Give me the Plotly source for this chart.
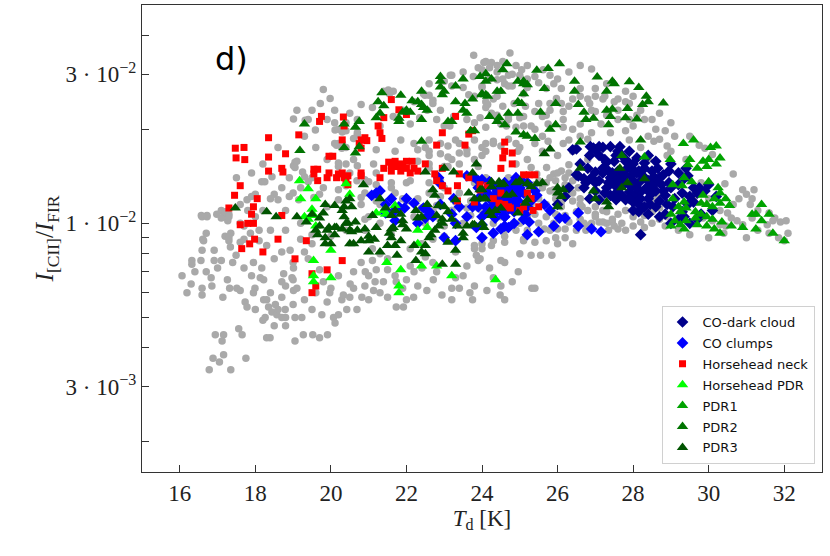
import numpy as np
import plotly.graph_objects as go

# ======================
# DATA  (T_d [K], I_CII/I_FIR in units of 1e-2)
# ======================
all_pixels = [
    (16.06, 0.68), (16.19, 0.60), (16.32, 0.76), (16.32, 0.74), (16.30, 0.64), (16.56, 0.76),
    (16.59, 0.82), (16.61, 0.89), (16.59, 0.62), (16.59, 0.59), (16.83, 0.67), (16.85, 0.63),
    (16.91, 0.76), (16.91, 0.82), (16.57, 1.06), (16.72, 1.06), (16.94, 0.44), (17.16, 0.44),
    (17.12, 0.42), (16.88, 0.37), (17.16, 0.38), (17.05, 0.36), (16.78, 0.34), (17.35, 0.34),
    (17.75, 0.37), (17.56, 0.46), (17.65, 0.44), (17.10, 0.76), (17.14, 0.58), (17.26, 0.66),
    (17.32, 0.62), (17.35, 0.93), (17.34, 0.84), (17.51, 0.62), (17.49, 0.79), (17.60, 0.61),
    (17.73, 0.56), (17.78, 0.54), (17.95, 0.75), (17.99, 0.62), (17.95, 0.60), (18.17, 0.72),
    (18.13, 0.67), (18.22, 0.66), (18.22, 0.57), (18.30, 0.57), (18.35, 0.54), (18.26, 0.50),
    (18.44, 0.52), (18.53, 0.55), (18.57, 0.51), (18.60, 0.53), (18.70, 0.50), (18.79, 0.53),
    (18.80, 0.50), (18.75, 0.69), (18.70, 0.65), (18.80, 0.63), (18.97, 0.67), (19.00, 0.66),
    (19.01, 0.72), (19.01, 0.61), (19.10, 0.62), (18.39, 0.43), (18.30, 0.43), (19.05, 0.42),
    (19.05, 0.50), (19.27, 0.44), (19.52, 0.44), (19.70, 0.43), (19.91, 0.44), (19.23, 0.50),
    (19.50, 0.53), (19.76, 0.51), (20.07, 0.50), (20.20, 0.51), (20.42, 0.53), (20.11, 0.48),
    (20.29, 0.57), (20.00, 0.62), (19.97, 0.60), (20.33, 0.59), (20.51, 0.64), (20.60, 0.62),
    (20.69, 0.53), (20.82, 0.58), (20.91, 0.70), (21.00, 0.57), (21.13, 0.61), (21.30, 0.60),
    (21.17, 0.65), (21.39, 0.65), (21.73, 0.54), (21.92, 0.54), (22.00, 0.57), (21.73, 0.65),
    (21.90, 0.62), (22.19, 0.58), (22.00, 0.66), (22.20, 0.70), (22.41, 0.72), (22.54, 0.61),
    (22.71, 0.66), (22.94, 0.59), (23.20, 0.57), (23.20, 0.62), (23.40, 0.62), (23.68, 0.60),
    (23.75, 0.57), (23.80, 0.63), (24.13, 0.61), (24.48, 0.59), (24.60, 0.57), (24.50, 0.63),
    (24.96, 0.70), (25.32, 0.62), (25.40, 0.62), (24.20, 0.72), (23.95, 0.77), (23.60, 0.73),
    (23.30, 0.67), (22.70, 0.75), (22.50, 0.78), (22.10, 0.73), (21.70, 0.68), (21.50, 0.71),
    (21.20, 0.71), (21.00, 0.68), (20.60, 0.70), (20.80, 0.75), (21.10, 0.76), (21.30, 0.80),
    (21.50, 0.77), (18.92, 0.82), (19.00, 0.75), (18.70, 0.81), (18.50, 0.77), (18.30, 0.85),
    (18.10, 0.88), (17.87, 0.93), (17.70, 0.98), (17.60, 1.00), (17.70, 0.89), (17.60, 0.87),
    (17.30, 0.88), (17.20, 0.91), (17.10, 1.10), (17.16, 1.05), (17.27, 1.02), (17.30, 1.07),
    (16.70, 0.93), (19.20, 0.89), (19.30, 0.81), (19.40, 0.77), (19.50, 0.86), (19.70, 0.71),
    (19.90, 0.56), (20.20, 0.68), (20.00, 0.91), (20.40, 0.95), (21.10, 0.83), (20.90, 0.95),
    (21.60, 0.92), (22.10, 0.83), (22.40, 0.86), (22.70, 0.89), (23.00, 0.91), (23.30, 0.81),
    (23.80, 0.83), (24.00, 0.86), (24.30, 0.88), (24.60, 0.91), (25.10, 0.89),
    (16.59, 1.05), (16.72, 1.05), (16.98, 1.07), (17.10, 1.04), (17.20, 1.09), (17.30, 1.05),
    (16.63, 0.88), (17.30, 0.90), (17.78, 1.19), (17.90, 1.22), (18.00, 1.24), (18.17, 1.36),
    (18.25, 1.36), (18.44, 1.41), (18.50, 1.24), (18.60, 1.19), (18.80, 1.10), (18.90, 1.22),
    (19.00, 1.25), (19.01, 1.53), (19.05, 1.57), (19.10, 1.58), (19.30, 1.41), (19.40, 1.36),
    (19.15, 1.19), (19.70, 1.24), (19.55, 1.21), (19.90, 1.13), (20.20, 1.28), (20.20, 1.19),
    (20.40, 1.32), (20.69, 1.37), (20.90, 1.38), (21.00, 1.36), (21.20, 1.33), (21.13, 1.55),
    (20.70, 1.53), (20.40, 1.55), (20.20, 1.52), (20.20, 1.56), (20.60, 1.60), (20.29, 1.74),
    (20.20, 1.80), (20.11, 1.99), (20.15, 1.78), (20.20, 2.00), (20.30, 1.96), (20.40, 1.98),
    (20.70, 1.92), (19.59, 1.99), (19.01, 2.16), (19.32, 2.14), (19.72, 2.42), (19.98, 2.51),
    (20.10, 2.30), (19.05, 1.51), (19.25, 1.46), (21.52, 2.67), (21.65, 2.65), (21.90, 2.30),
    (22.49, 2.57), (22.60, 2.57), (22.70, 2.42), (22.55, 2.30), (22.90, 2.30), (23.00, 2.05),
    (23.20, 2.98), (23.78, 3.45), (24.10, 3.30), (23.90, 3.15), (24.00, 2.75), (24.20, 2.90),
    (23.80, 2.55), (24.10, 2.35), (24.10, 2.45), (23.40, 1.80), (23.60, 1.72), (22.50, 1.75),
    (22.60, 1.65), (22.30, 1.72), (21.70, 1.70), (21.20, 1.72), (22.30, 1.58), (22.60, 1.50),
    (23.00, 1.52), (23.20, 1.60), (23.40, 1.68), (24.00, 1.65), (23.90, 1.52), (24.10, 1.80),
    (23.60, 1.42), (22.90, 1.38), (22.60, 1.35), (22.10, 1.37), (21.60, 1.30), (21.20, 1.18),
    (20.80, 1.21), (20.90, 1.03), (21.30, 1.00), (21.60, 1.10), (22.00, 1.18), (22.40, 1.12),
    (22.80, 1.14), (23.20, 1.10), (23.70, 1.18), (23.90, 1.12), (24.00, 0.98),
    (24.74, 3.51), (24.55, 3.30), (24.25, 3.27), (24.05, 3.27), (24.40, 3.20), (24.90, 3.20),
    (25.20, 3.20), (25.62, 3.10), (25.80, 2.98), (26.00, 2.90), (25.00, 2.98), (24.70, 2.98),
    (24.40, 2.88), (24.60, 2.80), (24.80, 2.75), (25.20, 2.72), (25.50, 2.82), (25.70, 2.70),
    (25.97, 2.51), (26.60, 3.20), (26.90, 3.12), (26.10, 2.42), (25.80, 2.42), (25.50, 2.42),
    (25.15, 2.37), (24.85, 2.42), (24.55, 2.37), (24.30, 2.50), (24.15, 2.40), (24.40, 2.22),
    (24.70, 2.15), (25.10, 2.20), (25.40, 2.28), (25.60, 2.20), (25.70, 2.22), (25.80, 2.30),
    (26.15, 2.28), (26.15, 2.15), (26.30, 2.37), (26.40, 2.50), (26.60, 2.55), (26.80, 2.50),
    (26.85, 2.42), (27.00, 2.55), (27.25, 2.55), (27.00, 2.28), (27.30, 2.80), (27.50, 2.45),
    (27.60, 2.50), (27.80, 2.45), (27.90, 2.42), (27.30, 2.22), (27.60, 2.15), (27.90, 2.15),
    (28.10, 2.22), (28.30, 2.15), (28.50, 2.15), (27.15, 2.08), (26.60, 2.08), (26.40, 2.00),
    (26.15, 2.03), (25.75, 2.08), (25.40, 2.00), (24.90, 2.03), (24.50, 2.08), (24.30, 1.83),
    (24.70, 1.86), (25.00, 1.75), (25.40, 1.80), (25.75, 1.83), (26.15, 1.80), (26.30, 1.85),
    (26.60, 1.90), (26.80, 1.86), (27.80, 1.98), (28.40, 1.90), (28.55, 1.83), (28.70, 1.86),
    (28.85, 1.98), (28.90, 1.77), (29.10, 1.90), (29.50, 1.90), (29.75, 1.78), (29.90, 1.74),
    (30.10, 1.66), (29.00, 1.70), (28.20, 1.75),
    (30.43, 1.34), (30.65, 1.44), (30.90, 1.28), (31.20, 1.28), (31.00, 1.24), (31.15, 1.20),
    (31.10, 1.15), (30.80, 1.20), (30.65, 1.15), (30.50, 1.08), (30.60, 1.04), (30.75, 1.02),
    (30.90, 0.99), (31.15, 1.04), (31.30, 1.10), (31.60, 1.08), (31.75, 1.04), (31.90, 1.01),
    (32.05, 1.02), (31.55, 0.99), (31.70, 1.02), (30.45, 0.98), (30.30, 0.99), (30.10, 1.02),
    (29.85, 1.04), (29.50, 0.92), (30.00, 0.90), (30.40, 0.93), (31.00, 0.90), (31.30, 0.95),
    (31.60, 0.93), (32.00, 0.88), (31.85, 0.90), (32.10, 0.93),
    (25.71, 1.51), (25.90, 1.44), (26.10, 1.47), (26.30, 1.54), (25.95, 1.37), (25.70, 1.35),
    (25.80, 1.27), (26.20, 1.33), (26.40, 1.37), (26.55, 1.30), (26.30, 1.25), (25.95, 1.20),
    (25.70, 1.15), (26.10, 1.13), (26.40, 1.18), (26.60, 1.20), (26.65, 1.13), (26.50, 1.09),
    (26.20, 1.06), (25.95, 1.07), (25.70, 1.05), (25.90, 1.00), (26.30, 1.01), (26.60, 1.03),
    (26.90, 1.00), (27.10, 1.01), (27.30, 1.00), (27.45, 1.01), (27.70, 1.00), (28.00, 0.98),
    (28.20, 1.01), (28.50, 1.00), (28.70, 1.03), (28.85, 0.98), (27.00, 1.07), (27.30, 1.09),
    (27.60, 1.07), (27.80, 1.10), (28.05, 1.09), (28.30, 1.06), (28.50, 1.09), (28.70, 1.12),
    (27.10, 1.20), (27.00, 1.13), (28.00, 1.20), (28.55, 1.20), (28.70, 1.22), (25.45, 1.44),
    (25.50, 1.37), (25.30, 1.51), (25.40, 1.33), (25.20, 1.25), (25.05, 1.27), (24.90, 1.10),
    (25.40, 1.07), (25.65, 0.96), (25.80, 0.95), (26.00, 0.96), (26.20, 0.96), (26.50, 0.95),
    (26.75, 0.95), (27.35, 0.95), (27.60, 0.96), (27.80, 0.95), (27.20, 1.01), (27.45, 1.03),
    (24.60, 0.95), (24.90, 0.95), (25.10, 0.88), (25.40, 0.87), (25.95, 0.90), (26.00, 0.86),
    (26.40, 0.86), (25.55, 0.79), (25.30, 0.79), (25.85, 0.79), (24.60, 0.87), (24.25, 0.85),
    (24.00, 0.83), (23.90, 0.76), (23.85, 0.79), (24.50, 0.76), (24.60, 0.75), (23.80, 0.85),
    (22.50, 1.00), (22.80, 1.05), (23.00, 0.98), (23.20, 1.10), (23.50, 1.00), (23.70, 1.06),
    (24.00, 1.10), (24.30, 1.00), (24.50, 1.05), (24.80, 1.10), (25.00, 1.00), (25.20, 1.05),
    (22.30, 1.20), (22.60, 1.25), (23.00, 1.30), (23.40, 1.25), (23.80, 1.35), (24.10, 1.40),
    (24.40, 1.30), (24.70, 1.40), (25.00, 1.35), (22.00, 1.35), (21.70, 1.25), (21.50, 1.10),
    (21.30, 1.15), (21.00, 1.05), (20.80, 1.15),
    (23.16, 2.98), (23.20, 2.75), (23.77, 2.95), (24.00, 3.10), (24.20, 3.15), (24.40, 3.05),
    (24.55, 2.90), (24.80, 3.00), (25.05, 3.10), (25.20, 2.90), (24.70, 2.75), (25.10, 2.60),
    (24.40, 2.55), (24.00, 2.72), (23.65, 2.58), (23.50, 2.72), (21.40, 2.65), (21.55, 2.60),
    (22.45, 2.60), (22.70, 2.48), (23.25, 2.20), (23.60, 2.15), (23.95, 2.18), (24.25, 2.25),
    (24.70, 2.20), (25.00, 2.18), (25.10, 2.05), (24.65, 2.05), (24.10, 2.03), (23.80, 2.10),
    (23.15, 2.05), (22.80, 2.15), (22.35, 2.18), (22.10, 2.08), (21.80, 2.15), (21.65, 2.20),
    (21.30, 2.05), (20.70, 2.15), (20.40, 2.10), (19.90, 2.15), (20.10, 2.10), (19.80, 2.68),
    (19.40, 2.15), (19.10, 2.30), (20.10, 1.80), (20.30, 1.80), (20.40, 1.75), (20.60, 1.87),
    (20.70, 1.95), (21.85, 1.85), (22.20, 1.80), (22.60, 1.85), (22.90, 1.80), (23.10, 1.77),
    (23.30, 1.85), (23.80, 1.85), (24.00, 1.75), (24.30, 1.80), (24.50, 1.77), (24.90, 1.80),
    (22.60, 1.70), (22.90, 1.67), (23.10, 1.63), (23.60, 1.67), (23.80, 1.60), (24.10, 1.70),
    (24.95, 1.70), (22.60, 1.55), (23.10, 1.52), (23.40, 1.55),
    (25.50, 1.20), (25.60, 1.30), (25.80, 1.40), (26.00, 1.45), (26.20, 1.40), (26.40, 1.25),
    (26.60, 1.15), (26.80, 1.10), (27.00, 1.05), (26.80, 0.98), (27.50, 0.98), (28.30, 0.97),
    (28.90, 1.05), (29.20, 0.95), (25.30, 1.15), (25.50, 1.00), (25.20, 0.95), (26.10, 1.17),
    (25.90, 1.28), (26.30, 1.45), (24.40, 1.17), (23.60, 1.12), (23.30, 1.17), (22.90, 1.22),
    (22.70, 1.10), (22.20, 1.05), (21.90, 1.20), (21.60, 1.35), (21.20, 1.45), (20.90, 1.25),
    (20.50, 1.45), (19.80, 1.30), (19.50, 1.40), (19.20, 1.30), (18.90, 1.40), (18.70, 1.30),
    (18.40, 1.20), (18.20, 1.10), (18.00, 1.05), (17.80, 1.10), (17.60, 1.15), (18.10, 0.95),
    (18.40, 0.95), (18.80, 0.95), (19.20, 1.00), (19.50, 0.92), (18.00, 0.53), (18.20, 0.49),
    (18.50, 0.47), (18.80, 0.47), (19.00, 0.55), (19.30, 0.57), (18.40, 0.60), (18.70, 0.58),
    (17.90, 0.68), (17.70, 0.72), (17.40, 0.75), (16.40, 0.70), (16.70, 0.70), (17.00, 0.72),
    (19.60, 0.60), (19.80, 0.65), (20.50, 0.58), (20.90, 0.63), (21.50, 0.58), (22.30, 0.63),
    (22.80, 0.70), (23.50, 0.68), (24.30, 0.67), (24.80, 0.65), (25.00, 0.80), (25.70, 0.88),
    (26.20, 0.90), (26.70, 1.00), (27.20, 1.10), (28.00, 1.05), (28.90, 1.15), (29.30, 1.25),
    (29.60, 1.20), (30.00, 1.20), (30.30, 1.10), (29.80, 1.35), (29.40, 1.60), (28.90, 1.65),
    (28.40, 1.60), (27.90, 1.85), (27.40, 1.95), (26.90, 1.95), (26.40, 1.70), (26.00, 1.65),
    (25.60, 1.70), (25.20, 1.60), (24.90, 1.55), (26.80, 1.60), (25.60, 1.90), (25.30, 2.05),
    (26.90, 2.30), (27.60, 2.30), (28.20, 2.30), (28.70, 2.25), (29.00, 2.10), (28.60, 2.00),
    (28.00, 2.05), (27.20, 2.50), (26.60, 2.70), (26.10, 2.70), (25.90, 2.80), (25.40, 2.95),
    (26.30, 3.05), (27.00, 2.70), (27.80, 2.65), (28.00, 2.55), (23.50, 3.05), (23.00, 2.85),
    (22.60, 2.80), (22.20, 2.45), (21.10, 2.35), (20.80, 2.40), (20.50, 2.25), (19.50, 2.30),
    (19.30, 1.90), (19.60, 1.75), (19.90, 1.60), (18.60, 1.75), (18.20, 1.55), (17.90, 1.45),
    (17.50, 1.40),
]

co_dark_cloud = [
    (26.40, 1.72), (26.95, 1.74), (26.85, 1.65), (27.10, 1.65), (27.20, 1.75), (27.30, 1.57),
    (27.50, 1.58), (27.70, 1.65), (27.80, 1.58), (27.20, 1.50), (27.35, 1.47), (27.60, 1.47),
    (27.85, 1.50), (28.00, 1.48), (28.15, 1.47), (28.30, 1.50), (28.50, 1.47), (28.65, 1.50),
    (28.80, 1.43), (28.95, 1.47), (26.55, 1.42), (26.70, 1.39), (26.90, 1.40), (27.10, 1.37),
    (27.35, 1.35), (27.50, 1.33), (27.65, 1.30), (27.80, 1.35), (28.00, 1.37), (28.15, 1.35),
    (28.40, 1.37), (28.60, 1.35), (28.75, 1.33), (26.70, 1.30), (27.00, 1.27), (27.25, 1.25),
    (27.40, 1.23), (27.55, 1.25), (27.70, 1.23), (27.90, 1.26), (28.05, 1.24), (28.20, 1.26),
    (28.45, 1.25), (28.60, 1.27), (28.85, 1.23), (29.00, 1.30), (29.20, 1.33), (29.35, 1.39),
    (29.45, 1.42), (29.60, 1.30), (29.75, 1.30), (30.00, 1.33), (29.70, 1.25), (29.90, 1.27),
    (27.55, 1.19), (27.80, 1.19), (28.00, 1.17), (28.15, 1.15), (28.30, 1.13), (28.45, 1.15),
    (28.60, 1.13), (28.15, 1.09), (28.40, 1.07), (28.85, 1.07), (29.05, 1.13), (29.30, 1.09),
    (29.45, 1.15), (29.60, 1.17), (29.20, 1.03), (29.35, 1.05), (29.80, 1.07), (29.70, 1.03),
    (26.85, 1.20), (26.50, 1.43), (27.10, 1.19), (27.50, 1.41), (27.00, 1.46), (26.75, 1.35),
    (28.80, 1.27), (28.95, 1.35), (26.87, 1.76), (27.00, 1.72), (27.10, 1.76), (27.40, 1.76),
    (27.65, 1.76), (27.25, 1.60), (27.55, 1.65), (26.50, 1.73), (27.85, 1.58), (26.20, 1.22),
    (26.30, 1.30), (26.00, 1.15), (28.20, 0.92), (27.95, 1.42), (28.25, 1.42), (28.55, 1.41),
    (27.45, 1.45), (27.75, 1.43), (28.10, 1.30), (28.35, 1.30), (27.30, 1.30), (27.95, 1.31),
    (27.40, 1.40), (27.60, 1.38), (27.80, 1.42), (28.10, 1.45), (28.30, 1.40), (28.50, 1.32),
    (28.70, 1.40), (27.50, 1.22), (27.90, 1.20), (28.20, 1.20), (28.40, 1.20), (28.70, 1.18),
    (28.90, 1.15), (29.10, 1.20), (29.30, 1.25), (29.50, 1.22), (28.00, 1.55), (28.30, 1.56),
    (28.60, 1.58), (28.40, 1.65), (28.10, 1.62), (27.60, 1.70), (27.90, 1.70), (29.20, 1.45),
    (29.40, 1.50), (29.00, 1.55), (27.20, 1.45), (27.00, 1.35), (26.80, 1.50), (26.60, 1.55),
    (28.00, 1.10), (28.70, 1.05), (29.00, 1.00), (29.50, 1.00), (30.10, 1.10), (30.20, 1.22),
    (28.50, 1.25), (27.70, 1.35),
]

co_clumps = [
    (21.08, 1.23), (21.20, 1.25), (21.30, 1.27), (21.45, 1.15), (21.70, 1.10), (21.80, 1.13),
    (21.95, 1.12), (22.20, 1.16), (21.45, 1.08), (21.70, 1.02), (22.45, 1.12), (22.60, 1.09),
    (22.70, 1.05), (22.50, 1.04), (22.85, 1.40), (22.90, 1.34), (23.25, 1.20), (23.40, 1.13),
    (23.60, 1.42), (23.90, 1.37), (24.00, 1.26), (24.20, 1.20), (24.35, 1.23), (24.50, 1.18),
    (24.70, 1.20), (24.25, 1.13), (24.40, 1.10), (24.60, 1.12), (24.80, 1.15), (24.95, 1.17),
    (25.10, 1.25), (24.80, 1.34), (25.05, 1.37), (25.20, 1.35), (24.90, 1.40), (24.10, 1.08),
    (24.35, 1.04), (24.60, 1.05), (23.30, 1.00), (23.85, 0.97), (24.50, 0.96), (24.70, 0.97),
    (25.10, 1.03), (23.90, 1.30), (24.15, 1.30), (24.60, 1.28), (24.45, 1.25), (23.77, 1.41),
    (24.00, 1.38), (24.20, 1.33), (24.35, 1.30), (24.55, 1.32), (24.70, 1.28), (24.90, 1.30),
    (25.00, 1.25), (24.20, 1.23), (24.45, 1.22), (24.60, 1.23), (24.80, 1.20), (24.90, 1.20),
    (25.05, 1.15), (25.20, 1.13), (23.90, 1.13), (24.10, 1.13), (24.35, 1.13), (24.50, 1.09),
    (24.70, 1.11), (24.85, 1.09), (25.15, 1.07), (24.60, 1.05), (25.25, 1.01), (25.45, 1.23),
    (25.65, 1.15), (25.80, 1.10), (26.05, 1.04), (26.20, 1.04), (26.55, 1.08), (26.55, 0.98),
    (27.15, 0.94), (24.85, 1.00), (24.60, 0.98), (24.00, 0.99), (23.75, 1.13), (23.00, 0.90),
    (23.30, 0.88), (24.00, 0.90), (24.30, 0.93), (25.20, 0.92), (25.50, 0.94),
    (24.30, 1.17), (24.50, 1.20), (24.70, 1.16), (24.90, 1.12), (24.40, 1.27), (24.60, 1.35),
    (24.20, 1.36), (25.00, 1.30), (24.80, 1.24), (24.10, 1.25), (23.90, 1.20), (24.30, 1.08),
    (25.30, 1.18), (25.40, 1.27), (24.00, 1.05), (23.60, 1.05), (23.20, 1.07), (22.90, 1.15),
    (22.30, 1.00), (22.00, 1.20), (21.60, 1.20), (26.90, 0.96), (25.90, 0.98),
]

horsehead_neck = [
    (17.47, 1.74), (17.70, 1.75), (17.49, 1.62), (17.72, 1.60), (18.35, 1.88), (18.35, 1.63),
    (18.35, 1.47), (18.73, 1.46), (18.70, 1.50), (18.80, 1.67), (19.15, 1.92), (17.60, 1.32),
    (17.45, 1.23), (18.05, 1.20), (18.70, 1.06), (19.55, 1.49), (19.65, 1.49), (19.55, 1.44),
    (19.65, 1.37), (19.90, 1.40), (20.15, 1.40), (20.30, 1.45), (20.40, 1.37), (20.45, 1.33),
    (20.35, 2.05), (19.75, 2.20), (19.70, 2.12), (19.95, 1.64), (20.05, 1.64), (20.75, 1.80),
    (20.95, 1.84), (20.80, 1.74), (21.60, 2.49), (21.80, 2.31), (22.00, 2.23), (21.40, 2.18),
    (23.30, 2.20), (22.95, 1.95), (23.65, 1.93), (23.75, 1.98), (20.80, 1.42),
    (21.53, 1.57), (21.70, 1.58), (21.85, 1.55), (21.60, 1.53), (21.75, 1.52), (21.90, 1.53),
    (22.00, 1.58), (22.15, 1.58), (22.20, 1.50), (22.30, 1.47), (21.60, 1.47), (21.85, 1.47),
    (22.00, 1.50), (21.40, 1.50), (22.50, 1.55), (21.30, 1.40), (22.10, 1.45), (22.75, 1.44),
    (22.80, 1.37), (22.95, 1.50), (22.80, 1.78), (23.55, 1.78), (23.40, 1.44), (23.65, 1.40),
    (23.35, 1.32), (23.10, 1.27), (22.95, 1.32), (24.55, 1.62), (24.50, 1.50), (24.15, 1.32),
    (24.30, 1.20), (24.45, 1.16), (24.70, 1.13), (25.10, 1.13), (25.10, 1.43), (23.35, 1.18),
    (23.80, 1.17), (20.33, 2.19), (20.30, 1.85), (20.80, 1.85), (20.90, 1.88), (19.95, 1.45),
    (20.20, 1.44), (20.35, 1.40), (20.45, 1.42), (20.80, 1.45), (21.25, 2.05), (21.30, 1.95),
    (21.35, 1.87), (24.80, 1.68), (24.80, 1.55), (25.25, 1.43), (25.40, 1.43), (25.20, 1.25),
    (25.30, 1.20), (25.50, 1.13), (25.35, 1.10), (25.00, 1.10), (24.75, 1.12), (24.60, 1.15),
    (24.50, 1.25), (23.95, 1.33), (23.95, 1.28), (24.60, 1.70), (24.60, 1.82), (17.60, 0.99),
    (17.80, 1.00), (17.95, 1.00), (17.90, 1.07), (17.64, 0.83), (17.85, 0.86), (17.98, 0.89),
    (18.20, 0.81), (18.60, 0.89), (19.05, 0.77), (19.35, 0.88), (19.50, 0.60), (19.60, 0.63),
    (19.50, 0.69), (19.90, 0.71), (20.30, 0.76), (17.95, 1.13), (17.30, 1.12),
]

horsehead_pdr = [
    (19.54, 0.76), (19.54, 0.68), (19.54, 0.65), (20.00, 0.67), (21.48, 0.75), (21.85, 0.71),
    (21.80, 0.63), (21.80, 0.60), (22.30, 0.86), (22.80, 0.73), (23.20, 0.68), (24.36, 0.66),
    (19.30, 1.05), (19.40, 1.03), (19.55, 1.06), (19.60, 0.98), (19.50, 1.11), (21.45, 1.07),
    (20.00, 0.82), (22.40, 0.73), (19.17, 1.37), (19.60, 1.20), (20.50, 1.24), (21.20, 1.08),
    (22.30, 0.95), (20.40, 1.34), (19.40, 1.29), (19.20, 1.20), (21.70, 1.14), (21.40, 1.10),
    (22.55, 0.97),
]

pdr1 = [
    (28.98, 1.60), (29.45, 1.54), (29.35, 1.40), (29.70, 1.50), (29.95, 1.52), (30.20, 1.55),
    (30.05, 1.75), (29.05, 1.33), (29.30, 1.32), (29.55, 1.36), (30.00, 1.36), (30.30, 1.25),
    (30.25, 1.30), (30.45, 1.20), (30.55, 1.14), (30.30, 1.16), (30.10, 1.13), (29.95, 1.15),
    (29.80, 1.16), (29.05, 1.20), (29.20, 1.13), (29.35, 1.17), (29.40, 1.12), (29.65, 1.09),
    (29.80, 1.07), (29.95, 1.05), (30.10, 1.03), (30.35, 1.01), (30.60, 0.98), (29.10, 1.02),
    (29.25, 0.99), (29.40, 1.02), (29.65, 1.04), (29.95, 0.98), (30.15, 0.96), (30.30, 0.93),
    (30.90, 0.97), (31.15, 1.07), (31.25, 1.07), (31.40, 1.15), (31.40, 1.02), (31.25, 0.96),
    (31.70, 0.93), (29.00, 0.98), (29.35, 0.96), (29.70, 0.99), (29.00, 1.07), (29.25, 1.09),
    (29.85, 1.23), (30.15, 1.20), (29.33, 1.80), (29.60, 1.85), (30.20, 1.77), (30.00, 1.60),
    (30.30, 1.62), (29.85, 1.58), (29.50, 1.60), (28.30, 1.63), (31.60, 1.07), (32.00, 0.88),
]

pdr2 = [
    (24.66, 3.24), (25.45, 3.09), (25.75, 3.13), (26.05, 3.24), (24.10, 3.01), (24.25, 2.90),
    (25.10, 2.85), (25.20, 2.78), (25.65, 2.70), (26.45, 2.85), (27.05, 2.94), (27.45, 2.85),
    (27.50, 2.80), (27.90, 2.84), (28.15, 2.72), (27.30, 2.65), (26.45, 2.65), (24.50, 2.65),
    (24.00, 2.58), (24.15, 2.55), (25.10, 2.60), (28.35, 2.55), (28.40, 2.45), (28.80, 2.43),
    (28.25, 2.40), (26.55, 2.40), (25.95, 2.42), (25.05, 2.42), (25.55, 2.27), (26.70, 2.27),
    (27.30, 2.30), (27.45, 2.32), (27.85, 2.33), (26.95, 2.17), (26.75, 2.15), (27.40, 2.20),
    (27.80, 2.18), (28.10, 2.16), (25.95, 2.07), (24.95, 2.25), (24.45, 2.18), (24.60, 2.07),
    (25.80, 2.00), (25.20, 1.90), (25.40, 1.87), (27.35, 2.07), (28.20, 1.85), (27.70, 1.65),
    (26.60, 1.82), (22.90, 2.95), (22.90, 2.85), (23.30, 2.75), (22.90, 2.73), (23.00, 2.65),
    (22.95, 2.58), (22.40, 2.65), (21.85, 2.57), (21.35, 2.62), (21.25, 2.45), (21.40, 2.38),
    (21.30, 2.25), (21.20, 2.18), (22.15, 2.47), (22.30, 2.45), (22.40, 2.40), (22.45, 2.35),
    (22.55, 2.30), (21.90, 2.27), (22.00, 2.30), (22.10, 2.27), (21.80, 2.17), (21.80, 2.12),
    (22.40, 2.15), (23.30, 2.45), (23.55, 2.42), (23.75, 2.50), (24.00, 2.60), (24.10, 2.58),
    (24.40, 2.65), (23.95, 2.95), (24.10, 2.85), (23.50, 2.90), (24.55, 3.10), (24.95, 2.85),
    (25.10, 2.80), (24.95, 2.45), (23.50, 2.30), (23.60, 2.25), (23.10, 2.12), (23.20, 2.12),
    (24.20, 2.20), (24.40, 2.12), (24.70, 2.25), (23.70, 1.98), (23.80, 1.98), (24.90, 1.96),
    (25.10, 1.92), (20.35, 2.08), (20.75, 2.12), (20.65, 2.03), (19.30, 2.08), (22.40, 1.83),
    (19.18, 1.71), (20.35, 1.75), (20.65, 1.68), (20.75, 1.76),
]

pdr3 = [
    (17.47, 1.12), (18.30, 1.09), (18.55, 1.05), (19.10, 1.05), (19.80, 1.08), (19.35, 1.01),
    (19.60, 0.95), (19.65, 0.92), (19.85, 0.90), (20.00, 0.86), (19.85, 0.86), (20.10, 0.97),
    (20.30, 0.96), (20.35, 1.05), (20.40, 1.00), (20.35, 1.13), (20.50, 0.95), (20.70, 0.95),
    (20.50, 0.86), (20.60, 0.86), (20.80, 0.88), (21.00, 0.88), (21.00, 0.81), (21.10, 1.06),
    (21.15, 0.89), (21.30, 0.81), (21.50, 0.85), (21.60, 0.90), (21.60, 0.96), (21.70, 0.85),
    (21.75, 0.79), (21.85, 0.88), (21.90, 0.99), (22.20, 0.85), (22.25, 0.76), (22.30, 1.04),
    (22.40, 0.81), (22.50, 0.80), (22.50, 0.85), (22.60, 0.90), (22.65, 0.92), (22.80, 1.06),
    (22.85, 0.98), (22.95, 1.00), (23.10, 0.87), (22.95, 0.74), (23.30, 0.74), (23.30, 0.82),
    (23.50, 0.90), (24.00, 1.00), (24.05, 0.97), (24.50, 1.12), (24.95, 1.08), (23.00, 1.13),
    (22.55, 1.15), (20.86, 1.33), (20.50, 1.20), (20.40, 1.18), (19.85, 1.15), (20.10, 1.14),
    (20.30, 1.10), (20.55, 1.13), (20.65, 1.01), (20.45, 1.00), (20.15, 0.97), (19.95, 0.97),
    (19.70, 0.98), (19.50, 1.07), (19.70, 1.04), (19.90, 0.95), (20.10, 0.92), (20.55, 0.94),
    (20.90, 0.96), (21.00, 0.91), (21.20, 0.97), (21.30, 1.20), (21.45, 1.12), (21.70, 1.10),
    (21.85, 1.07), (21.60, 1.06), (21.90, 1.02), (22.00, 0.96), (21.65, 0.97), (21.55, 0.93),
    (22.25, 1.10), (22.40, 1.05), (22.70, 1.28), (22.75, 1.23), (22.85, 1.14), (22.95, 1.03),
    (23.10, 1.09), (23.20, 1.03), (23.30, 1.19), (23.35, 0.98), (22.75, 0.95), (23.50, 0.93),
    (23.60, 0.98), (23.75, 0.99), (23.65, 1.25), (23.80, 1.20), (23.95, 1.20), (23.95, 1.28),
    (24.05, 1.20), (24.20, 1.09), (24.25, 1.36), (24.45, 1.36), (24.50, 1.33), (24.65, 1.23),
    (24.90, 1.35), (25.00, 1.37), (25.15, 1.16), (22.50, 1.46), (23.25, 1.46), (23.75, 1.45),
    (23.85, 1.55), (23.00, 1.50), (24.57, 1.34), (25.00, 1.36), (25.20, 1.34), (25.45, 1.34),
    (25.60, 1.35), (24.25, 1.31), (24.00, 1.28), (24.80, 1.24), (24.35, 1.10), (24.25, 1.06),
    (24.10, 1.20), (25.20, 1.19), (25.30, 1.31), (26.00, 1.30), (26.00, 1.25), (26.00, 1.13),
    (26.60, 1.50), (26.95, 1.27), (27.30, 1.17), (27.65, 1.50), (27.85, 1.35), (28.30, 1.39),
    (23.80, 0.99), (25.65, 1.67), (25.80, 1.73), (26.15, 1.28), (26.10, 1.22), (27.35, 1.13),
    (27.00, 1.20), (27.70, 1.30),
]

series = [
    ("CO-dark cloud", co_dark_cloud, "diamond", "#00008b", 9),
    ("CO clumps", co_clumps, "diamond", "#0000ff", 9),
    ("Horsehead neck", horsehead_neck, "square", "#ff0000", 7),
    ("Horsehead PDR", horsehead_pdr, "triangle-up", "#00ff00", 10),
    ("PDR1", pdr1, "triangle-up", "#00a300", 10),
    ("PDR2", pdr2, "triangle-up", "#007400", 10),
    ("PDR3", pdr3, "triangle-up", "#005400", 10),
]

# ======================
# PLOT
# ======================
fig = go.Figure()

# all pixels (grey background)
bg = np.array(all_pixels)
fig.add_trace(go.Scatter(
    x=bg[:, 0], y=bg[:, 1] * 1e-2,
    mode="markers",
    marker=dict(symbol="circle", size=7.5, color="#a9a9a9"),
    showlegend=False,
))

for i, (name, pts, sym, col, size) in enumerate(series):
    arr = np.array(pts)
    fig.add_trace(go.Scatter(
        x=arr[:, 0], y=arr[:, 1] * 1e-2,
        mode="markers",
        name=name,
        legendgroup=str(i),
        marker=dict(symbol=sym, size=size, color=col),
    ))

serif = "Liberation Serif"
fig.update_layout(
    width=830, height=556,
    plot_bgcolor="white", paper_bgcolor="white",
    margin=dict(l=142, r=8, t=5, b=84),
    xaxis=dict(
        range=[15, 33],
        tickvals=[16, 18, 20, 22, 24, 26, 28, 30, 32],
        ticks="inside", ticklen=7, tickcolor="#333",
        showline=True, linecolor="#333", linewidth=1, mirror=True,
        showgrid=False, zeroline=False,
        tickfont=dict(family=serif, size=23, color="#222"),
        title=dict(text="<i>T</i><sub>d</sub> [K]", font=dict(family=serif, size=23, color="#222"), standoff=2),
    ),
    yaxis=dict(
        type="log",
        range=[np.log10(0.0016), np.log10(0.05)],
        tickvals=[0.003, 0.01, 0.03],
        ticktext=["3 · 10<sup>−3</sup>", "1 · 10<sup>−2</sup>", "3 · 10<sup>−2</sup>"],
        ticks="inside", ticklen=7, tickcolor="#333",
        minor=dict(ticks="inside", ticklen=7, tickcolor="#333",
                   tickvals=[0.002, 0.004, 0.005, 0.006, 0.007, 0.008, 0.009, 0.02, 0.04]),
        showline=True, linecolor="#333", linewidth=1, mirror=True,
        showgrid=False, zeroline=False,
        tickfont=dict(family=serif, size=23, color="#222"),
        title=dict(text="<i>I</i><sub>[CII]</sub>/<i>I</i><sub>FIR</sub>",
                   font=dict(family=serif, size=25, color="#222"), standoff=4),
    ),
    legend=dict(
        x=0.989, y=0.017, xanchor="right", yanchor="bottom",
        bgcolor="white", bordercolor="#d0d0d0", borderwidth=1,
        font=dict(family="DejaVu Sans", size=13, color="#111"),
        tracegroupgap=1,
    ),
    annotations=[dict(
        text="d)", xref="paper", yref="paper", x=0.105, y=0.885,
        xanchor="left", yanchor="middle", showarrow=False,
        font=dict(family="DejaVu Sans", size=32, color="black"),
    )],
)

# drop the default page margin so the figure sits at the window origin
fig.write_html("out.html", config={"displayModeBar": False},
               post_script="document.body.style.margin='0';")
